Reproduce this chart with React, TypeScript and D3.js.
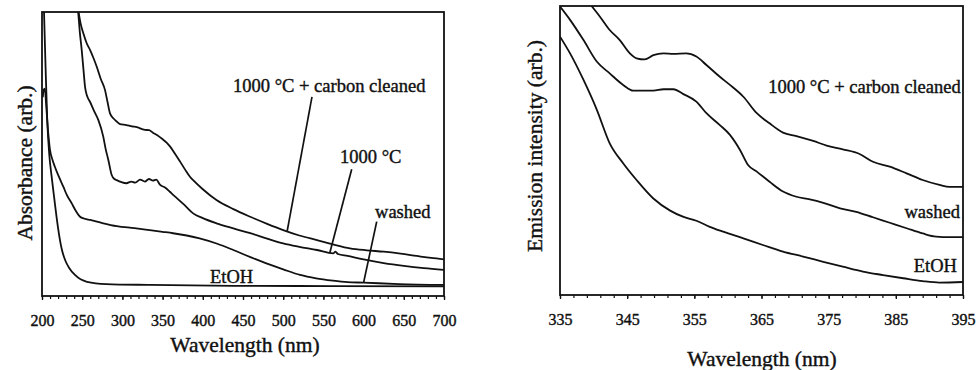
import { useEffect, useRef } from 'react';
import * as d3 from 'd3';

// ---- left panel: absorbance (wavelength nm, arb. units 0-100) ----
const absEtohNm = [202.5, 204.5, 206.5, 209, 212, 215, 218, 221, 225, 229, 234, 241, 256, 280, 334, 438, 560, 700];
const absEtohVal = [100, 80, 62, 50, 42, 35, 28, 22, 16, 12.5, 9.8, 7.4, 5.0, 4.2, 3.9, 3.6, 3.5, 3.4];

const absWashedNm = [201, 202, 203.5, 205, 207, 210, 213, 216, 221, 226.5, 231, 237, 242, 247, 253, 260, 275, 293, 315, 334, 350, 363, 380, 396, 418, 438, 460, 479, 500, 521, 541, 562, 580, 600, 644, 700];
const absWashedVal = [70, 72.5, 73, 68, 60, 51.4, 48, 45.5, 42, 38.5, 35.5, 32.6, 30, 28, 27.2, 26.8, 25.7, 24.6, 23.9, 23.2, 22.6, 22.1, 21.3, 20.3, 18.4, 16.2, 13.6, 11.5, 9.4, 7.4, 6.2, 5.4, 4.9, 4.7, 4.2, 3.9];

const abs1000Nm = [245, 247, 249.4, 251.5, 253.5, 256, 259.7, 265, 270, 276.2, 279, 282.5, 286.7, 290, 293, 298, 305, 311, 316, 322, 328, 333, 338, 342, 347, 353, 359, 363, 368, 378, 388, 400, 417, 438, 459, 480, 500, 520, 542, 562, 565, 568, 580, 600, 625, 650, 675, 700];
const abs1000Val = [100, 93, 86.6, 80, 73.7, 70.5, 68.4, 65, 62, 56.1, 52, 47.9, 42.6, 41.2, 40.8, 40.2, 39.7, 40.3, 39.9, 41.0, 40.3, 41.2, 40.6, 41.0, 39.1, 38.2, 36.7, 35.6, 34.4, 31.8, 29.1, 27.4, 25.6, 23.8, 22.1, 20.2, 18.5, 17.3, 16.2, 15.0, 15.6, 14.8, 14.1, 12.9, 11.6, 10.6, 9.8, 9.2];

const absCleanNm = [245.5, 248, 252, 255.6, 260, 264, 268.1, 273, 278.4, 281.5, 284.6, 289, 293, 297, 305, 312, 318, 322, 328, 333, 338, 343, 350, 355, 359.4, 365, 371.6, 378, 384, 388, 400, 417, 438, 459, 480, 500, 520, 542, 562, 583, 604, 625, 646, 666, 684, 700];
const absCleanVal = [100, 96, 92, 89, 86.5, 83.8, 80.7, 76.5, 72.5, 68.3, 64.3, 62.5, 61.4, 60.5, 60.2, 59.7, 59.5, 59.0, 58.5, 58.4, 57.5, 56.7, 55.2, 54, 52.6, 50.3, 47.4, 44.5, 42, 40.8, 37.6, 33.8, 30.6, 27.9, 25.4, 23.2, 21.3, 19.7, 18.2, 16.8, 16.1, 15.6, 14.9, 14.1, 13.4, 12.9];

const absTicks = [200, 250, 300, 350, 400, 450, 500, 550, 600, 650, 700];

// ---- right panel: emission ----
const emCleanNm = [339.7, 340.95, 342.4, 343.9, 345.4, 346.4, 347.6, 348.9, 350.4, 351.9, 353.8, 355.3, 356.8, 358.8, 360.3, 362.3, 364.3, 366.2, 368.2, 370.2, 372.7, 374.7, 377.1, 379.6, 381.6, 384.1, 386.6, 389.0, 391.5, 393.0, 395];
const emCleanVal = [100, 96.3, 91.7, 88.2, 83.6, 81.9, 81.5, 83.0, 83.6, 83.4, 83.6, 82.5, 79.6, 75.5, 72.7, 68.6, 62.9, 59.4, 56.2, 55.0, 53.3, 51.7, 50.4, 48.8, 46.1, 44.4, 42.1, 39.8, 38.1, 37.4, 37.4];

const emWashedNm = [335, 336.5, 338.5, 340.5, 342.4, 344.4, 345.9, 348.9, 350.4, 351.9, 353.3, 355.3, 356.8, 358.8, 360.3, 361.8, 363.0, 364.3, 366.2, 368.2, 370.2, 372.2, 374.2, 376.7, 379.1, 381.6, 384.1, 386.6, 389.0, 391.0, 393.0, 395];
const emWashedVal = [99.8, 95.2, 88.2, 80.7, 76.7, 72.7, 70.7, 70.7, 71.2, 71.2, 69.6, 66.9, 62.9, 58.8, 55.4, 50.2, 45.0, 42.7, 39.2, 35.8, 34.0, 33.1, 31.9, 30.0, 28.8, 26.9, 25.0, 23.1, 21.3, 20.2, 20.0, 20.0];

const emEtohNm = [335, 336.5, 338.5, 340.5, 342.4, 344.4, 346.4, 348.9, 351.4, 353.3, 355.3, 357.3, 359.3, 362.3, 365.2, 368.2, 371.2, 374.2, 377.1, 380.1, 383.1, 386.1, 389.0, 391.5, 395];
const emEtohVal = [89.4, 83.6, 74.4, 64.0, 52.5, 45.6, 39.8, 33.4, 29.2, 27.1, 25.7, 23.6, 21.9, 19.6, 17.3, 15.0, 13.3, 11.5, 9.8, 8.1, 6.9, 5.8, 4.8, 4.3, 4.5];

const emTicks = [335, 345, 355, 365, 375, 385, 395];

const FONT = '"Liberation Serif", "Times New Roman", serif';
const INK = '#111';

type Pt = [number, number];
const zip = (xs: number[], ys: number[]): Pt[] => xs.map((x, i) => [x, ys[i]]);

function drawPanel(svg: any, cfg: any) {
  const { left, right, top, bottom, xDomain, ticks, minorStep, series, labels, leaders, xTitle, yTitle, id } = cfg;
  const x = d3.scaleLinear().domain(xDomain).range([left, right]);
  const y = d3.scaleLinear().domain([0, 100]).range([bottom, top]);

  svg.append('clipPath').attr('id', id)
    .append('rect').attr('x', left).attr('y', top).attr('width', right - left).attr('height', bottom - top);

  const line = d3.line<Pt>().x(d => x(d[0])).y(d => y(d[1])).curve(d3.curveMonotoneX);
  const g = svg.append('g').attr('clip-path', `url(#${id})`);
  series.forEach((s: Pt[]) => {
    g.append('path').attr('d', line(s)).attr('fill', 'none')
      .attr('stroke', INK).attr('stroke-width', 1.8).attr('stroke-linejoin', 'round');
  });

  // minor ticks
  const minors = d3.range(xDomain[0], xDomain[1] + 0.001, minorStep);
  svg.append('g').attr('transform', `translate(0,${bottom})`)
    .call(d3.axisBottom(x).tickValues(minors).tickSize(3).tickFormat(() => ''))
    .call((a: any) => a.select('.domain').remove())
    .selectAll('line').attr('stroke', INK).attr('stroke-width', 1.2);

  // major ticks + labels
  const ax = svg.append('g').attr('transform', `translate(0,${bottom})`)
    .call(d3.axisBottom(x).tickValues(ticks).tickSize(4).tickPadding(21).tickFormat(d3.format('d')));
  ax.select('.domain').remove();
  ax.selectAll('line').attr('stroke', INK).attr('stroke-width', 1.3);
  ax.selectAll('text').attr('font-family', FONT).attr('font-size', 16).attr('fill', INK)
    .attr('stroke', INK).attr('stroke-width', 0.4).attr('dy', '0.3em');

  // frame
  svg.append('rect').attr('x', left).attr('y', top).attr('width', right - left).attr('height', bottom - top)
    .attr('fill', 'none').attr('stroke', INK).attr('stroke-width', 1.8);

  // leaders
  leaders.forEach((l: number[]) => {
    svg.append('line').attr('x1', x(l[0])).attr('y1', y(l[1])).attr('x2', x(l[2])).attr('y2', y(l[3]))
      .attr('stroke', INK).attr('stroke-width', 1.7);
  });

  labels.forEach((l: any) => {
    svg.append('text').attr('x', x(l.x)).attr('y', y(l.y)).attr('text-anchor', l.anchor || 'start')
      .attr('font-family', FONT).attr('font-size', 18.5).attr('fill', INK)
      .attr('stroke', INK).attr('stroke-width', 0.4).text(l.text);
  });

  svg.append('text').attr('x', xTitle.x).attr('y', xTitle.y).attr('text-anchor', 'middle')
    .attr('font-family', FONT).attr('font-size', 21.5).attr('fill', INK)
    .attr('stroke', INK).attr('stroke-width', 0.4).text(xTitle.text);

  svg.append('text').attr('transform', `translate(${yTitle.x},${yTitle.y}) rotate(-90)`)
    .attr('text-anchor', 'middle').attr('dominant-baseline', 'central')
    .attr('font-family', FONT).attr('font-size', 21.5).attr('fill', INK)
    .attr('stroke', INK).attr('stroke-width', 0.4).text(yTitle.text);
}

export default function App() {
  const svgRef = useRef<SVGSVGElement>(null);

  useEffect(() => {
    const svg = d3.select(svgRef.current);
    svg.selectAll('*').remove();
    svg.append('rect').attr('width', 977).attr('height', 370).attr('fill', '#fff');

    drawPanel(svg, {
      id: 'clipAbs', left: 42, right: 444, top: 12, bottom: 296,
      xDomain: [200, 700], ticks: absTicks, minorStep: 10,
      series: [zip(absEtohNm, absEtohVal), zip(absWashedNm, absWashedVal), zip(abs1000Nm, abs1000Val), zip(absCleanNm, absCleanVal)],
      labels: [
        { text: '1000 °C + carbon cleaned', x: 437.6, y: 71.8 },
        { text: '1000 °C', x: 570.7, y: 46.8 },
        { text: 'washed', x: 614.2, y: 27.5 },
        { text: 'EtOH', x: 409, y: 4.6 },
      ],
      leaders: [
        [535.8, 70.1, 505, 22.9],
        [585.2, 44.6, 558, 15.2],
        [616.3, 26.2, 600, 4.7],
      ],
      xTitle: { text: 'Wavelength (nm)', x: 245, y: 352 },
      yTitle: { text: 'Absorbance (arb.)', x: 25, y: 163 },
    });

    drawPanel(svg, {
      id: 'clipEm', left: 560, right: 963, top: 6, bottom: 295,
      xDomain: [335, 395], ticks: emTicks, minorStep: 2,
      series: [zip(emEtohNm, emEtohVal), zip(emWashedNm, emWashedVal), zip(emCleanNm, emCleanVal)],
      labels: [
        { text: '1000 °C + carbon cleaned', x: 366.0, y: 69.9 },
        { text: 'washed', x: 394.55, y: 26.6, anchor: 'end' },
        { text: 'EtOH', x: 394.1, y: 8.0, anchor: 'end' },
      ],
      leaders: [],
      xTitle: { text: 'Wavelength (nm)', x: 762, y: 366 },
      yTitle: { text: 'Emission intensity (arb.)', x: 535, y: 146 },
    });
  }, []);

  return (
    <svg ref={svgRef} width={977} height={370}
      style={{ position: 'absolute', left: 0, top: 0, display: 'block' }} />
  );
}
